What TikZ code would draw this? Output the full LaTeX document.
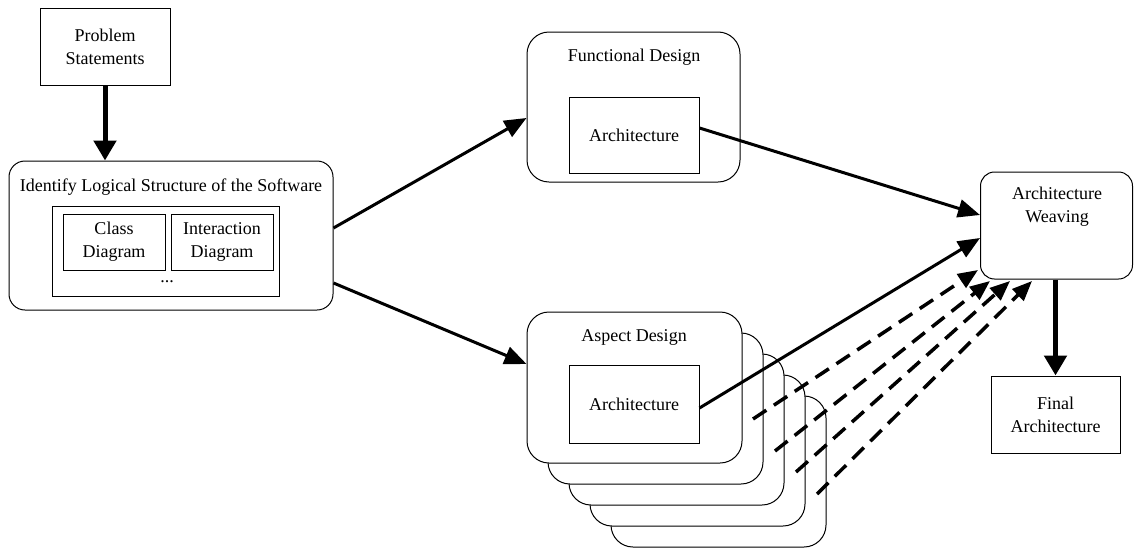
\documentclass[tikz,border=0pt]{standalone}
\usepackage{fontspec}
\setmainfont{Liberation Serif}
\usetikzlibrary{shapes}
\usetikzlibrary{arrows.meta}

\begin{document}
\begin{tikzpicture}[x=1pt,y=-1pt]
			\tikzstyle{every node}=[font=\fontsize{18}{23}\selectfont,align=center]
			\tikzstyle{block}=[rectangle,draw,line width=1pt,fill=white,inner sep=0pt]
			\tikzstyle{roundbox}=[block,rounded corners=22pt]
			\tikzstyle{flow}=[line width=3pt,-{Triangle[length=22pt,width=18pt]}]
			\tikzstyle{bigflow}=[line width=5pt,-{Triangle[length=20pt,width=22pt]}]
			\tikzstyle{extra}=[line width=3.5pt,dash pattern=on 16pt off 9pt,-{Triangle[length=20pt,width=16pt]}]
			\useasboundingbox (0,0) rectangle (1134,549);
			
			\node[block,minimum width=130pt,minimum height=77pt] (prob) at (105,46.5) {Problem\\Statements};
			
			\node[roundbox,rounded corners=16pt,minimum width=324pt,minimum height=149pt] (ident) at (171,235.5) {};
			\node (identtitle) at (171,187) {Identify Logical Structure of the Software};
			\node[block,minimum width=227pt,minimum height=90pt] (model) at (165.5,251) {};
			\node[block,minimum width=102pt,minimum height=56pt] (class) at (114,242) {Class\\Diagram};
			\node[block,minimum width=102pt,minimum height=56pt] (inter) at (222,242) {Interaction\\Diagram};
			\node (dots) at (167,282) {...};
			
			\node[roundbox,minimum width=213pt,minimum height=150pt] (func) at (633.5,107) {};
			\node (functitle) at (634,57) {Functional Design};
			\node[block,minimum width=130pt,minimum height=76pt] (funcarch) at (634,135) {Architecture};
			
			\foreach \k in {4,3,2,1}
				\node[roundbox,minimum width=215pt,minimum height=151pt] (asp\k) at (634.5+21*\k,387.5+21*\k) {};
			\node[roundbox,minimum width=215pt,minimum height=151pt] (aspect) at (634.5,387.5) {};
			\node (aspecttitle) at (634,337) {Aspect Design};
			\node[block,minimum width=130pt,minimum height=78pt] (aspectarch) at (634,404) {Architecture};
			
			\node[roundbox,rounded corners=14pt,minimum width=152pt,minimum height=107pt] (weave) at (1056.5,225.5) {};
			\node (weavetext) at (1057,207) {Architecture\\Weaving};
			\node[block,minimum width=129pt,minimum height=77pt] (final) at (1055.5,414.5) {Final\\Architecture};
			
			\draw[bigflow] (prob.south) -- (ident.north -| prob.south);
			\draw[flow] ([yshift=7.5pt]ident.east) -- ([yshift=-11pt]func.west);
			\draw[flow] ([yshift=-47.5pt]ident.east) -- ([yshift=23.5pt]aspect.west);
			\draw[flow] ([yshift=7pt]funcarch.east) -- ([yshift=10.5pt]weave.west);
			\draw[flow] ([yshift=-4pt]aspectarch.east) -- ([yshift=-12.5pt]weave.west);
			\foreach \i/\sx/\sy/\ex/\ey in {1/753/419/978/270,2/775/451/990/281,3/796/472/1010/281,4/817/494/1032/281}
			{
				\coordinate (from\i) at (\sx,\sy);
				\coordinate (to\i) at (\ex,\ey);
				\draw[extra] (from\i) -- (to\i);
			}
			\draw[bigflow] (weave.south -| final.north) -- (final.north);
\end{tikzpicture}
\end{document}
